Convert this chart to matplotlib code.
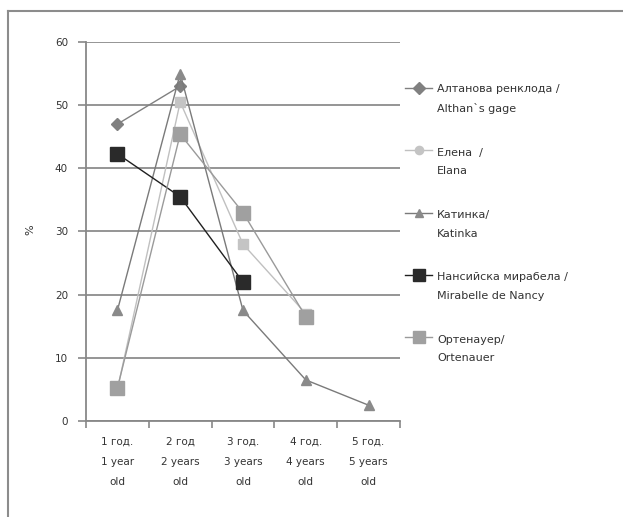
import numpy as np
import matplotlib
matplotlib.use("Agg")
import matplotlib.pyplot as plt
from matplotlib.lines import Line2D

categories = ["1 год.\n1 year\nold", "2 год\n2 years\nold", "3 год.\n3 years\nold",
              "4 год.\n4 years\nold", "5 год.\n5 years\nold"]
series_names = ["Алтанова ренклода /\nAlthan`s gage", "Елена  /\nElana", "Катинка/\nKatinka",
                "Нансийска мирабела /\nMirabelle de Nancy", "Ортенауер/\nOrtenauer"]
althan = [47, 53, np.nan, np.nan, np.nan]
elena = [5, 50.5, 28, 17, np.nan]
katinka = [17.5, 55, 17.5, 6.5, 2.5]
nancy = [42.3, 35.5, 22, np.nan, np.nan]
ortenauer = [5.2, 45.4, 33, 16.5, np.nan]
y_ticks = [0, 10, 20, 30, 40, 50, 60]

styles = [
    dict(color="#808080", marker="D", ms=6, mfc="#808080", mec="#808080"),
    dict(color="#c0c0c0", marker="s", ms=7, mfc="#c4c4c4", mec="#c4c4c4"),
    dict(color="#7a7a7a", marker="^", ms=7, mfc="#8a8a8a", mec="#8a8a8a"),
    dict(color="#202020", marker="s", ms=9.5, mfc="#2a2a2a", mec="#2a2a2a"),
    dict(color="#9a9a9a", marker="s", ms=9.5, mfc="#a0a0a0", mec="#a0a0a0"),
]
legend_markers = ["D", "o", "^", "s", "s"]

W, H = 623, 517
fig = plt.figure(figsize=(W / 100, H / 100), dpi=100)
ax = fig.add_axes([86 / W, 1 - 421 / H, (400 - 86) / W, (421 - 42) / H])

x = np.arange(len(categories))
data = [althan, elena, katinka, nancy, ortenauer]
for vals, st, name in zip(data, styles, series_names):
    ax.plot(x, vals, lw=1.0, label=name, zorder=3, **st)

ax.set_xlim(-0.5, len(categories) - 0.5)
ax.set_ylim(0, 60)
ax.set_yticks(y_ticks)
ax.set_yticklabels([str(v) for v in y_ticks], fontsize=7.5, color="#333333")
ax.tick_params(axis="y", length=6, width=1.2, color="#888888", pad=7)
ax.grid(axis="y", color="#8c8c8c", lw=1.3)
ax.set_axisbelow(True)

ax.set_xticks(np.arange(-0.5, len(categories), 1.0))
ax.set_xticklabels([])
ax.set_xticks(x, minor=True)
ax.set_xticklabels(categories, minor=True, fontsize=7.5, color="#333333", linespacing=2.3)
ax.tick_params(axis="x", which="major", length=5, width=1.2, color="#888888")
ax.tick_params(axis="x", which="minor", length=0, pad=11)

for s in ["top", "right"]:
    ax.spines[s].set_visible(False)
for s in ["left", "bottom"]:
    ax.spines[s].set_color("#888888")
    ax.spines[s].set_linewidth(1.3)

fig.text(30 / W, 1 - 230 / H, "%", rotation=90, fontsize=8, color="#333333",
         ha="center", va="center")

# legend drawn manually so the marker sits on the first text line
y0, dy = 88, 62.3
for i, (st, name, mk) in enumerate(zip(styles, series_names, legend_markers)):
    yy = 1 - (y0 + i * dy) / H
    ms = st["ms"] * (0.85 if mk != "D" else 1.0)
    fig.add_artist(Line2D([405 / W, 432 / W], [yy, yy], transform=fig.transFigure,
                          color=st["color"], lw=1.0))
    fig.add_artist(Line2D([418.5 / W], [yy], transform=fig.transFigure, marker=mk,
                          ms=ms, mfc=st["mfc"], mec=st["mec"], ls="none"))
    fig.text(437 / W, yy - 24 / H, name, fontsize=8, color="#333333", ha="left",
             va="baseline", linespacing=2.05, transform=fig.transFigure)

fig.add_artist(Line2D([8 / W, 1], [1 - 11 / H, 1 - 11 / H], transform=fig.transFigure,
                      color="#8c8c8c", lw=1.5))
fig.add_artist(Line2D([8 / W, 8 / W], [0, 1 - 11 / H], transform=fig.transFigure,
                      color="#8c8c8c", lw=1.5))

fig.savefig("out.png", dpi=100)
